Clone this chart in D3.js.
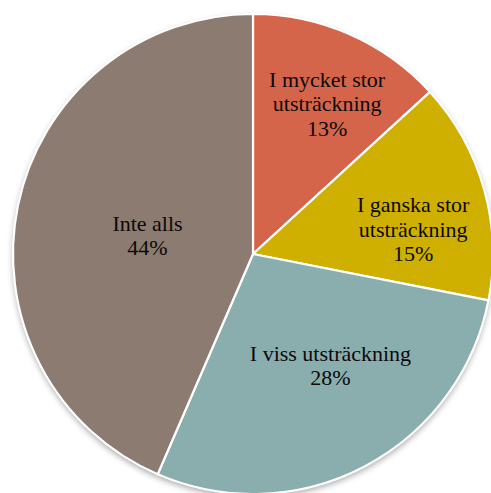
<!DOCTYPE html>
<html>
<head>
<meta charset="utf-8">
<script src="https://cdn.jsdelivr.net/npm/d3@7"></script>
<style>
  body { margin: 0; background: #fff; }
</style>
</head>
<body>
<div id="chart"></div>
<script>
// data
var categories = ["I mycket stor utsträckning", "I ganska stor utsträckning", "I viss utsträckning", "Inte alls"];
var labelLines = [["I mycket stor", "utsträckning"], ["I ganska stor", "utsträckning"], ["I viss utsträckning"], ["Inte alls"]];
var values = [13.2, 14.9, 28.4, 43.5];
var colors = ["#d4654b", "#cfb000", "#8aadad", "#8c7b70"];

// label placement (radius, angle shift in degrees) - like excel best fit
var labelRadius = [167, 162, 136, 107];
var labelShift = [2.6, 7, -7, -2];

var width = 491, height = 493;
var cx = 253, cy = 254, radius = 240;

var svg = d3.select("#chart")
      .append("svg")
      .attr("width", width)
      .attr("height", height);

var defs = svg.append("defs");
var f = defs.append("filter")
      .attr("id", "shadow")
      .attr("x", "-10%").attr("y", "-10%")
      .attr("width", "120%").attr("height", "120%");
f.append("feDropShadow")
      .attr("dx", 0).attr("dy", 3)
      .attr("stdDeviation", 3)
      .attr("flood-color", "#000")
      .attr("flood-opacity", 0.35);

var g = svg.append("g")
      .attr("transform", "translate(" + cx + "," + cy + ")");

var data = categories.map(function (c, i) {
      return { name: c, value: values[i], color: colors[i], lines: labelLines[i], i: i };
});

var pie = d3.pie()
      .sort(null)
      .value(function (d) { return d.value; });

var arc = d3.arc()
      .innerRadius(0)
      .outerRadius(radius);

var arcs = pie(data);

// shadow layer under the pie
g.append("circle")
      .attr("r", radius)
      .attr("fill", "#fff")
      .attr("filter", "url(#shadow)");

g.selectAll("path.slice")
      .data(arcs)
      .enter()
      .append("path")
      .attr("class", "slice")
      .attr("d", arc)
      .attr("fill", function (d) { return d.data.color; })
      .attr("stroke", "#fff")
      .attr("stroke-width", 2.2)
      .attr("stroke-linejoin", "round");

// labels
var lineH = 24.5;
var lbl = g.selectAll("text.lbl")
      .data(arcs)
      .enter()
      .append("text")
      .attr("class", "lbl")
      .attr("text-anchor", "middle")
      .style("font-family", "'Liberation Serif', 'Times New Roman', serif")
      .style("font-size", "22px")
      .attr("fill", "#0a0a0a")
      .attr("transform", function (d) {
            var i = d.data.i;
            var a = (d.startAngle + d.endAngle) / 2 + labelShift[i] * Math.PI / 180;
            var r = labelRadius[i];
            return "translate(" + (r * Math.sin(a)) + "," + (-r * Math.cos(a)) + ")";
      });

lbl.each(function (d) {
      var lines = d.data.lines.concat([Math.round(d.data.value) + "%"]);
      var n = lines.length;
      var t = d3.select(this);
      lines.forEach(function (s, k) {
            t.append("tspan")
                  .attr("x", 0)
                  .attr("y", (k - (n - 1) / 2) * lineH + 7)
                  .text(s);
      });
});
</script>
</body>
</html>
